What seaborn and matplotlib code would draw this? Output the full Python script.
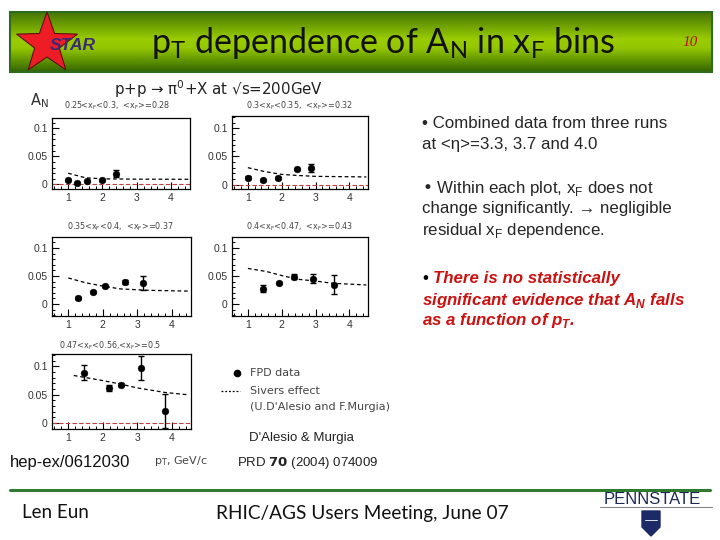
import numpy as np
import pandas as pd
import matplotlib
matplotlib.use("Agg")
import matplotlib.pyplot as plt
import seaborn as sns
from matplotlib.patches import Polygon, Rectangle
from matplotlib.ticker import AutoMinorLocator

sns.set_theme(style="white")
plt.rcParams['font.family'] = ['Liberation Sans', 'DejaVu Sans']

# ---------------- data ----------------
bin_titles = [
    "0.25<x$_\\mathregular{F}$<0.3,  <x$_\\mathregular{F}$>=0.28",
    "0.3<x$_\\mathregular{F}$<0.35,  <x$_\\mathregular{F}$>=0.32",
    "0.35<x$_\\mathregular{F}$<0.4,  <x$_\\mathregular{F}$>=0.37",
    "0.4<x$_\\mathregular{F}$<0.47,  <x$_\\mathregular{F}$>=0.43",
    "0.47<x$_\\mathregular{F}$<0.56,<x$_\\mathregular{F}$>=0.5",
]

p1_pt = [1.00, 1.25, 1.55, 2.00, 2.40]
p1_an = [0.0076, 0.0030, 0.0060, 0.0076, 0.0190]
p1_err = [0.002, 0.002, 0.002, 0.002, 0.0065]
p1_th_pt = [1.0, 1.5, 2.0, 3.0, 4.5]
p1_th_an = [0.020, 0.012, 0.010, 0.0095, 0.0092]

p2_pt = [1.00, 1.46, 1.88, 2.45, 2.87]
p2_an = [0.0124, 0.0080, 0.0120, 0.0280, 0.0300]
p2_err = [0.002, 0.002, 0.002, 0.002, 0.0074]
p2_th_pt = [1.0, 1.5, 2.0, 2.5, 3.0, 4.5]
p2_th_an = [0.030, 0.023, 0.018, 0.016, 0.0145, 0.0135]

p3_pt = [1.27, 1.71, 2.06, 2.64, 3.17]
p3_an = [0.0105, 0.0210, 0.0320, 0.0390, 0.0370]
p3_err = [0.002, 0.002, 0.002, 0.0035, 0.0122]
p3_th_pt = [1.0, 1.5, 2.0, 2.5, 3.3, 4.5]
p3_th_an = [0.0465, 0.038, 0.032, 0.027, 0.0245, 0.023]

p4_pt = [1.44, 1.92, 2.37, 2.93, 3.54]
p4_an = [0.0276, 0.0380, 0.0490, 0.0450, 0.0340]
p4_err = [0.006, 0.002, 0.004, 0.008, 0.017]
p4_th_pt = [1.0, 1.55, 2.05, 2.5, 3.0, 3.5, 4.5]
p4_th_an = [0.0635, 0.058, 0.050, 0.044, 0.041, 0.037, 0.034]

p5_pt = [1.45, 2.17, 2.53, 3.10, 3.80]
p5_an = [0.0888, 0.0618, 0.0680, 0.0970, 0.0220]
p5_err = [0.013, 0.005, 0.002, 0.0206, 0.030]
p5_th_pt = [1.16, 2.0, 2.5, 3.0, 3.8, 4.45]
p5_th_an = [0.084, 0.075, 0.069, 0.062, 0.054, 0.050]

x_ticks = [1, 2, 3, 4]
y_ticks = [0, 0.05, 0.1]
y_tick_labels = ["0", "0.05", "0.1"]

W, H = 720, 540
fig = plt.figure(figsize=(7.2, 5.4), dpi=100)
fig.patch.set_facecolor("white")

bg = fig.add_axes([0, 0, 1, 1], zorder=0)
bg.set_xlim(0, W)
bg.set_ylim(H, 0)
bg.axis("off")

# header gradient bar
stops = np.array([0.0, 0.45, 0.6, 1.0])
cols = np.array([[0.27, 0.46, 0.02], [0.60, 0.80, 0.0], [0.58, 0.78, 0.0], [0.20, 0.40, 0.0]])
t = np.linspace(0, 1, 100)
grad = np.stack([np.interp(t, stops, cols[:, k]) for k in range(3)], axis=-1)[:, None, :]
bg.imshow(grad, extent=(10, 712, 72, 12), aspect="auto", origin="upper", zorder=1)
bg.add_patch(Rectangle((10, 12), 702, 60, fill=False, ec="#2e6b1e", lw=1.5, zorder=2))

# STAR star
cx, cy, R, r = 47, 44, 32, 13
ang = np.deg2rad(-90 + np.arange(10) * 36)
rad = np.where(np.arange(10) % 2 == 0, R, r)
star = Polygon(np.c_[cx + rad * np.cos(ang), cy + rad * np.sin(ang)], closed=True,
               fc="#ee1c24", ec="#5a1010", lw=0.8, zorder=3)
bg.add_patch(star)
bg.text(73, 45, "STAR", fontsize=12.5, fontweight="bold", style="italic", color="#3a2a78",
        ha="center", va="center", zorder=4)

bg.text(383, 43, "p$_\\mathregular{T}$ dependence of A$_\\mathregular{N}$ in x$_\\mathregular{F}$ bins",
        fontsize=24.5, family=["Lato", "DejaVu Sans"], fontweight="normal", color="#111111",
        ha="center", va="center", zorder=4)
bg.text(690, 43, "10", fontsize=11, style="italic", color="#b01010", ha="center", va="center", zorder=4,
        family=["Liberation Serif", "DejaVu Serif"])

# physics label
bg.text(39, 101, "A$_\\mathregular{N}$", fontsize=10.5, color="#333333", ha="center", va="center",
        family=["DejaVu Sans"])
bg.text(219, 89, "p+p \u2192 \u03c0$^\\mathregular{0}$+X at \u221as=200GeV", fontsize=10.8, color="#222222",
        ha="center", va="center", family=["DejaVu Sans"])

panels = [
    dict(box=(52, 118, 190, 189), ylim=(-0.008, 0.118), pt=p1_pt, an=p1_an, err=p1_err,
         tpt=p1_th_pt, tan=p1_th_an, zero=True, title=bin_titles[0], tx=117, ty=106),
    dict(box=(232, 116, 368, 189), ylim=(-0.008, 0.122), pt=p2_pt, an=p2_an, err=p2_err,
         tpt=p2_th_pt, tan=p2_th_an, zero=True, title=bin_titles[1], tx=300, ty=106),
    dict(box=(52, 237, 191, 316), ylim=(-0.0214, 0.1196), pt=p3_pt, an=p3_an, err=p3_err,
         tpt=p3_th_pt, tan=p3_th_an, zero=False, title=bin_titles[2], tx=120, ty=227),
    dict(box=(232, 237, 368, 316), ylim=(-0.0214, 0.1196), pt=p4_pt, an=p4_an, err=p4_err,
         tpt=p4_th_pt, tan=p4_th_an, zero=False, title=bin_titles[3], tx=300, ty=227),
    dict(box=(52, 354, 191, 429), ylim=(-0.0106, 0.122), pt=p5_pt, an=p5_an, err=p5_err,
         tpt=p5_th_pt, tan=p5_th_an, zero=True, title=bin_titles[4], tx=110, ty=346),
]

for p in panels:
    l, tp, rt, bt = p["box"]
    ax = fig.add_axes([l / W, 1 - bt / H, (rt - l) / W, (bt - tp) / H], zorder=5)
    ax.patch.set_alpha(0)
    df = pd.DataFrame({"pt": p["pt"], "an": p["an"]})
    th = pd.DataFrame({"pt": p["tpt"], "an": p["tan"]})
    if p["zero"]:
        ax.axhline(0, color="#c04040", ls=(0, (4, 2)), lw=0.8, zorder=1)
    sns.lineplot(data=th, x="pt", y="an", ax=ax, color="black", lw=0.9,
                 linestyle=(0, (3, 2.2)), estimator=None, sort=True, zorder=2)
    ax.errorbar(p["pt"], p["an"], yerr=p["err"], fmt="none", ecolor="black",
                elinewidth=1.0, capsize=2.5, capthick=1.0, zorder=3)
    sns.scatterplot(data=df, x="pt", y="an", ax=ax, color="black", s=24,
                    edgecolor="black", linewidth=0.3, zorder=4)
    ax.set_xlim(0.53, 4.55)
    ax.set_ylim(*p["ylim"])
    ax.set_xticks(x_ticks)
    ax.set_yticks(y_ticks)
    ax.set_yticklabels(y_tick_labels)
    ax.xaxis.set_minor_locator(AutoMinorLocator(5))
    ax.yaxis.set_minor_locator(AutoMinorLocator(5))
    ax.tick_params(which="both", direction="in", top=False, right=False, left=True, bottom=True,
                   labelsize=7.5, labelcolor="#333333", color="black")
    ax.tick_params(which="major", length=5, width=0.8, pad=3)
    ax.tick_params(which="minor", length=2.5, width=0.7)
    ax.set_xlabel("")
    ax.set_ylabel("")
    for s in ax.spines.values():
        s.set_color("black")
        s.set_linewidth(0.9)
        s.set_visible(True)
    leg = ax.get_legend()
    if leg is not None:
        leg.remove()
    bg.text(p["tx"], p["ty"], p["title"], fontsize=5.8, color="#444444", ha="center", va="center",
            family=["DejaVu Sans"])

# legend (drawn manually)
bg.plot([237], [373], marker="o", color="black", ms=4.5, zorder=5)
bg.text(250, 373, "FPD data", fontsize=8, color="#444444", va="center", family=["DejaVu Sans"])
bg.plot([221, 240], [391, 391], color="black", lw=0.9, ls=(0, (1.5, 1.5)), zorder=5)
bg.text(250, 391, "Sivers effect", fontsize=8, color="#444444", va="center", family=["DejaVu Sans"])
bg.text(250, 407, "(U.D'Alesio and F.Murgia)", fontsize=8, color="#444444", va="center",
        family=["DejaVu Sans"])

bg.text(301, 438, "D'Alesio & Murgia", fontsize=9.5, color="#222222", ha="center", va="center")
bg.text(308, 463, "PRD $\\mathbf{70}$ (2004) 074009", fontsize=9.5, color="#222222", ha="center", va="center")
bg.text(70, 463, "hep-ex/0612030", fontsize=12, color="#111111", ha="center", va="center")
bg.text(181, 461, "p$_\\mathregular{T}$, GeV/c", fontsize=8, color="#444444", ha="center", va="center",
        family=["DejaVu Sans"])

# right-hand bullet text
fs = 12.2
bg.text(422, 123, "\u2022 Combined data from three runs", fontsize=fs, va="center")
bg.text(422, 145, "at <\u03b7>=3.3, 3.7 and 4.0", fontsize=fs, va="center")
bg.text(422, 188, "\u2022 Within each plot, x$_\\mathregular{F}$ does not", fontsize=fs, va="center")
bg.text(422, 209, "change significantly. \u2192 negligible", fontsize=fs, va="center")
bg.text(422, 231, "residual x$_\\mathregular{F}$ dependence.", fontsize=fs, va="center")
red = "#cc1111"
bg.text(422, 279, "\u2022", fontsize=fs, va="center", color="black")
bg.text(433, 279, "There is no statistically", fontsize=fs, va="center", color=red,
        fontweight="bold", style="italic")
bg.text(422, 300, "significant evidence that A$_\\mathregular{N}$ falls", fontsize=fs, va="center",
        color=red, fontweight="bold", style="italic")
bg.text(422, 321, "as a function of p$_\\mathregular{T}$.", fontsize=fs, va="center", color=red,
        fontweight="bold", style="italic")

# footer
bg.plot([10, 710], [490, 490], color="#2e7a2e", lw=2.2)
bg.text(55, 513, "Len Eun", fontsize=13.5, family=["Lato", "DejaVu Sans"], fontweight="normal",
        ha="center", va="center", color="#111111")
bg.text(362, 513, "RHIC/AGS Users Meeting, June 07", fontsize=13.7, family=["Lato", "DejaVu Sans"],
        fontweight="normal", ha="center", va="center", color="#111111")
bg.text(652, 499, "PENNSTATE", fontsize=12, color="#1c2a55", ha="center", va="center",
        family=["Liberation Sans", "DejaVu Sans"])
bg.plot([600, 712], [507, 507], color="#888888", lw=0.8)
shield = Polygon([[642, 511], [660, 511], [660, 527], [651, 536], [642, 527]], closed=True,
                 fc="#1c2a66", ec="#1c2a66")
bg.add_patch(shield)
bg.plot([645, 657], [520, 520], color="white", lw=0.6)

fig.savefig("out.png", dpi=100, facecolor="white")
